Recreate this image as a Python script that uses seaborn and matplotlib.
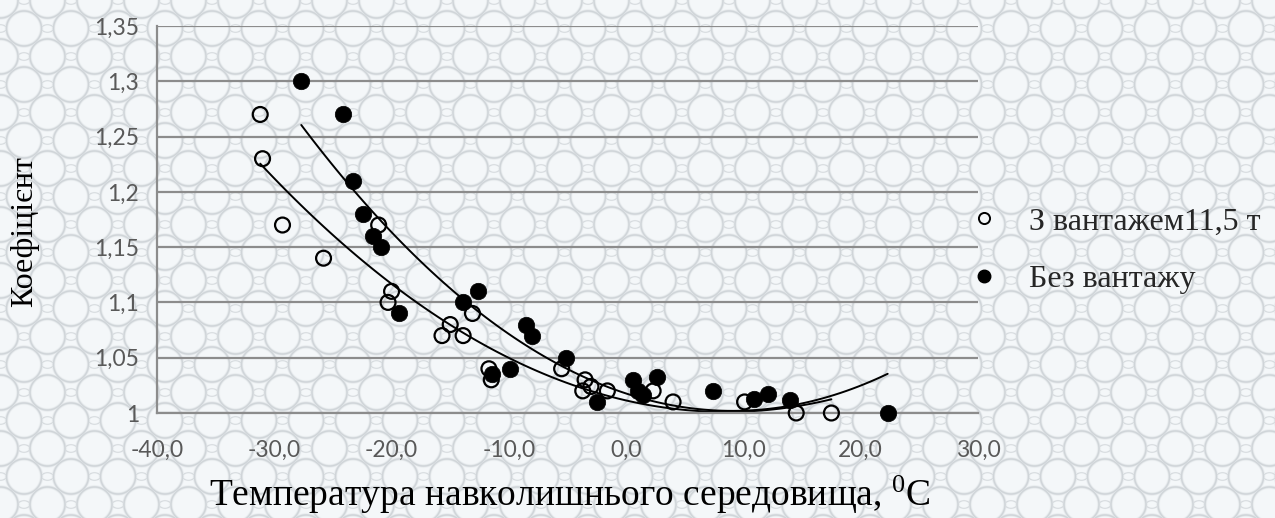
import numpy as np
import pandas as pd
import matplotlib
matplotlib.use("Agg")
import matplotlib.pyplot as plt
from matplotlib.lines import Line2D
import seaborn as sns

# Measurements: ambient temperature (°C) and coefficient
loaded_temp = [-31.2, -31.0, -29.3, -25.8, -21.1, -20.0, -20.3, -13.1, -15.0, -15.7,
               -13.9, -11.7, -11.5, -5.5, -3.5, -3.7, -3.0, -1.6, 2.3, 4.0, 10.1, 14.5, 17.5]
loaded_coef = [1.27, 1.23, 1.17, 1.14, 1.17, 1.11, 1.10, 1.09, 1.08, 1.07,
               1.07, 1.04, 1.03, 1.04, 1.03, 1.02, 1.024, 1.02, 1.02, 1.01, 1.01, 1.00, 1.00]

empty_temp = [-27.7, -24.1, -23.3, -22.4, -21.6, -20.9, -19.4, -12.6, -13.9, -8.5,
              -8.0, -11.4, -9.9, -5.1, -2.5, 0.6, 2.6, 1.0, 1.4, 7.4, 10.9, 12.1, 14.0, 22.3]
empty_coef = [1.30, 1.27, 1.21, 1.18, 1.16, 1.15, 1.09, 1.11, 1.10, 1.08,
              1.07, 1.035, 1.04, 1.05, 1.01, 1.03, 1.033, 1.02, 1.016, 1.02, 1.013, 1.017, 1.012, 1.00]

series_labels = ["З вантажем11,5 т", "Без вантажу"]
x_ticks = [-40, -30, -20, -10, 0, 10, 20, 30]
y_ticks = [1.00, 1.05, 1.10, 1.15, 1.20, 1.25, 1.30, 1.35]

loaded = pd.DataFrame({"t": loaded_temp, "k": loaded_coef})
empty = pd.DataFrame({"t": empty_temp, "k": empty_coef})

sns.set_theme(style="white")
plt.rcParams["mathtext.default"] = "regular"

W, H, DPI = 1275, 518, 100
fig = plt.figure(figsize=(W / DPI, H / DPI), dpi=DPI)

# lace-like background texture
yy, xx = np.mgrid[0:H, 0:W].astype(float)
px, py = 47.0, 56.0
u = np.mod(xx, px)
v = np.mod(yy, py)
centers = [(0, 0), (px, 0), (0, py), (px, py), (px / 2, py / 2)]
d = np.min([np.hypot(u - cx, v - cy) for cx, cy in centers], axis=0)
small = [(px / 2, 0), (px / 2, py), (0, py / 2), (px, py / 2)]
ds = np.min([np.hypot((u - cx) * 1.0, (v - cy) * 1.6) for cx, cy in small], axis=0)
ink = np.maximum(np.exp(-((d - 17.5) / 1.3) ** 2), 0.8 * np.exp(-((ds - 6.0) / 1.1) ** 2))
base = np.array([0.960, 0.972, 0.979])
line = np.array([0.815, 0.835, 0.850])
tex = base[None, None, :] * (1 - ink[..., None]) + line[None, None, :] * ink[..., None]
bg = fig.add_axes([0, 0, 1, 1], zorder=-5)
bg.imshow(tex, aspect="auto", interpolation="bilinear")
bg.axis("off")

ax = fig.add_axes([157 / W, 1 - 413 / H, (978 - 157) / W, (413 - 26) / H])
ax.set_facecolor("none")

grid_c = "#8c8c8c"
ax.set_xlim(-40, 30)
ax.set_ylim(1.0, 1.35)
ax.set_xticks(x_ticks)
ax.set_yticks(y_ticks)
ax.set_xticklabels([f"{t:.1f}".replace(".", ",") for t in x_ticks])
ax.set_yticklabels([f"{t:g}".replace(".", ",") for t in y_ticks])
ax.yaxis.grid(True, color=grid_c, linewidth=1.6)
ax.xaxis.grid(False)
for s in ["top", "right"]:
    ax.spines[s].set_visible(False)
for s in ["left", "bottom"]:
    ax.spines[s].set_color(grid_c)
    ax.spines[s].set_linewidth(1.6)
ax.tick_params(axis="both", direction="out", length=5, width=1.6, color=grid_c,
               labelcolor="#595959", labelsize=16.5)
ax.tick_params(axis="x", pad=14)
ax.tick_params(axis="y", pad=8)
for lab in ax.get_xticklabels() + ax.get_yticklabels():
    lab.set_family("Lato")
ax.set_axisbelow(True)

# second-order trend lines
sns.regplot(data=empty, x="t", y="k", order=2, ci=None, truncate=True, scatter=False,
            ax=ax, line_kws=dict(color="black", linewidth=1.4))
sns.regplot(data=loaded, x="t", y="k", order=2, ci=None, truncate=True, scatter=False,
            ax=ax, line_kws=dict(color="black", linewidth=1.4))

sns.scatterplot(data=loaded, x="t", y="k", ax=ax, s=115, facecolor="none",
                edgecolor="black", linewidth=1.6, zorder=4, clip_on=False)
sns.scatterplot(data=empty, x="t", y="k", ax=ax, s=140, color="black",
                edgecolor="black", linewidth=0.5, zorder=5, clip_on=False)
ax.set_xlabel("")
ax.set_ylabel("")

serif = ["Liberation Serif", "DejaVu Serif"]
fig.text(570 / W, 1 - 495 / H, "Температура навколишнього середовища, $^{0}$C",
         ha="center", va="center", fontsize=27, family=serif, color="black")
fig.text(25 / W, 1 - 232 / H, "Коефіцієнт", rotation=90, ha="center", va="center",
         fontsize=23, family=serif, color="black")

handles = [
    Line2D([], [], linestyle="none", marker="o", markersize=8, markerfacecolor="none",
           markeredgecolor="black", markeredgewidth=1.4),
    Line2D([], [], linestyle="none", marker="o", markersize=9, markerfacecolor="black",
           markeredgecolor="black"),
]
fig.legend(handles, series_labels, loc="upper left", bbox_to_anchor=(965 / W, 1 - 207 / H),
           frameon=False, prop=dict(family="Liberation Serif", size=23),
           handlelength=1.2, handletextpad=0.8, labelspacing=0.9, borderaxespad=0,
           borderpad=0)

fig.savefig("out.png", dpi=DPI)
